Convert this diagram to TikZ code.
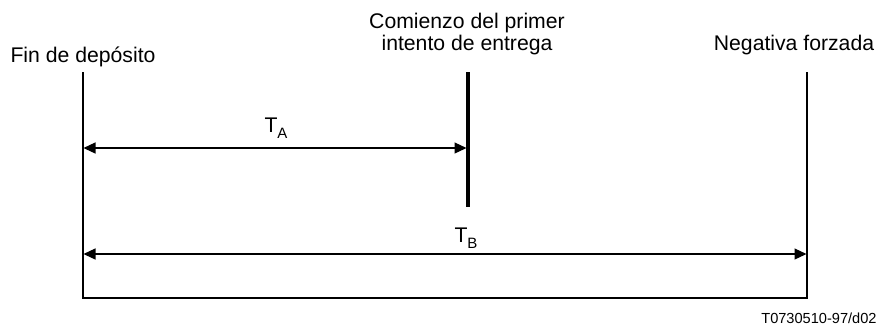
\documentclass[tikz,border=0pt]{standalone}
\usepackage{fontspec}
\setmainfont{Liberation Sans}
\usetikzlibrary{positioning,arrows.meta}

\newcommand{\sublabel}[2]{#1\raisebox{-3pt}{\fontsize{7.5}{8}\selectfont #2}}

\begin{document}
\begin{tikzpicture}[x=0.5pt, y=-0.5pt,
  font=\fontsize{10.6}{11}\selectfont,
  label/.style={inner sep=0pt, anchor=base},
  marker/.style={line width=1pt},
  span/.style={<->, line width=0.6pt, >={Triangle[length=6pt,width=5.5pt]}}]
\useasboundingbox (0,0) rectangle (889,329);
% Define nodes
\node[label] (fin) at (83,62) {Fin de depósito};
\node[label, align=center] (comienzo) at (467,50) {Comienzo del primer\\intento de entrega};
\node[label] (negativa) at (794,50) {Negativa forzada};
\node[label] (ta) at (276,132) {\sublabel{T}{A}};
\node[label] (tb) at (466,242) {\sublabel{T}{B}};
\node[label, anchor=base east, font=\fontsize{7.3}{8}\selectfont] (ref) at (877,323) {T0730510-97/d02};

% Define coordinates
\coordinate (finTop) at (83,72);
\coordinate (finBot) at (83,298);
\coordinate (negTop) at (807,72);
\coordinate (negBot) at (807,298);
\coordinate (comTop) at (468,72);
\coordinate (comBot) at (468,207);
\coordinate (aLeft) at (83.5,148);
\coordinate (aRight) at (466.5,148);
\coordinate (bLeft) at (83.5,254);
\coordinate (bRight) at (806.5,254);

% Draw lines
\draw[marker] (finTop) -- (finBot) -- (negBot) -- (negTop);
\draw[line width=2pt] (comTop) -- (comBot);

% Draw arrows
\draw[span] (aLeft) -- (aRight);
\draw[span] (bLeft) -- (bRight);

\end{tikzpicture}
\end{document}
